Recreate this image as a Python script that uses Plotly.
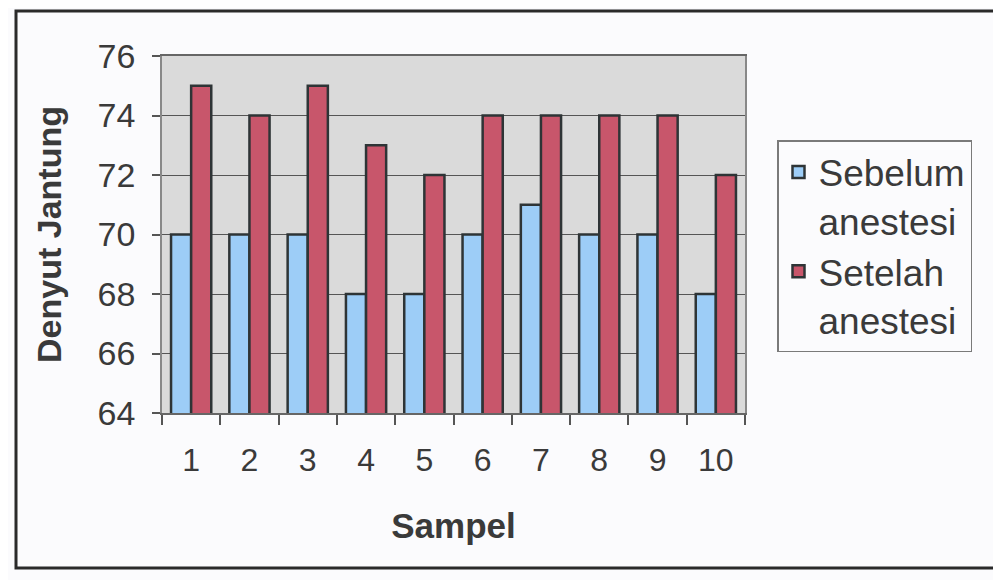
import plotly.graph_objects as go

categories = ["1", "2", "3", "4", "5", "6", "7", "8", "9", "10"]
sebelum = [70, 70, 70, 68, 68, 70, 71, 70, 70, 68]
setelah = [75, 74, 75, 73, 72, 74, 74, 74, 74, 72]
y_ticks = [64, 66, 68, 70, 72, 74, 76]

font_fam = "Liberation Sans, Arial, sans-serif"
txt = "#3a3a3a"

fig = go.Figure()
fig.add_trace(go.Bar(x=categories, y=sebelum, name="Sebelum<br>anestesi",
                     marker=dict(color="#9dcdf7", line=dict(color="#2e3436", width=2.5))))
fig.add_trace(go.Bar(x=categories, y=setelah, name="Setelah<br>anestesi",
                     marker=dict(color="#c8566b", line=dict(color="#2e3436", width=2.5))))

OFF = 8  # page body margin
W, H = 1001 - OFF, 580 - OFF
L, R, T, B = 162 - OFF, 745 - OFF, 56 - OFF, 413 - OFF
pw, ph = R - L, B - T

def px(x):
    return (x - OFF - L) / pw

def py(y):
    return (B - (y - OFF)) / ph

fig.update_layout(
    width=W, height=H,
    margin=dict(l=L, r=W - R, t=T, b=H - B, autoexpand=False),
    paper_bgcolor="#fbfbfd",
    plot_bgcolor="#dadada",
    barmode="group",
    bargap=0.31,
    bargroupgap=0,
    font=dict(family=font_fam, color=txt),
    showlegend=True,
    legend=dict(
        x=px(777), y=py(140), xanchor="left", yanchor="top",
        bgcolor="#fbfbfd", bordercolor="#7a7a7a", borderwidth=1.5,
        font=dict(size=37, family=font_fam, color=txt),
        itemwidth=30, valign="top",
    ),
    xaxis=dict(
        type="category", tickson="boundaries", ticks="outside", ticklen=10,
        tickcolor="#555", tickwidth=1.5, automargin=False,
        tickfont=dict(size=32, color=txt), ticklabelstandoff=18,
        showline=True, linecolor="#666", linewidth=1.5, mirror=True,
        title=dict(text="<b>Sampel</b>", font=dict(size=35, color=txt), standoff=36),
    ),
    yaxis=dict(
        range=[64, 76], tickvals=y_ticks, ticks="outside", ticklen=8,
        tickcolor="#555", tickwidth=1.5, automargin=False,
        tickfont=dict(size=34, color=txt), ticklabelstandoff=10,
        showgrid=True, gridcolor="#555", gridwidth=1.2,
        showline=True, linecolor="#888", linewidth=1.5, mirror=True,
        title=dict(text="<b>Denyut Jantung</b>", font=dict(size=34, color=txt), standoff=26),
    ),
)

fig.add_shape(type="rect", xref="paper", yref="paper",
              x0=px(16), x1=px(1010), y0=py(568), y1=py(11),
              line=dict(color="#2a2a2a", width=3), layer="below")

fig.write_html("out.html")
